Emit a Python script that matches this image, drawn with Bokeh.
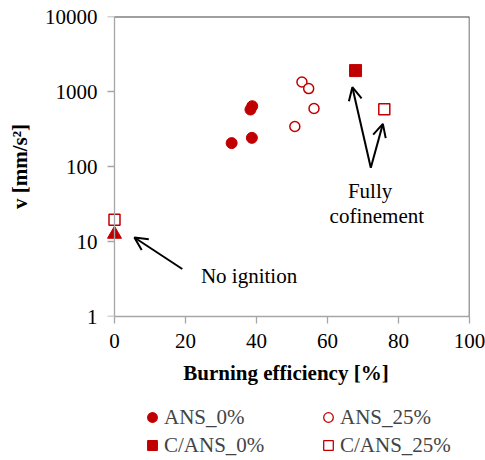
from bokeh.plotting import figure
from bokeh.layouts import column
from bokeh.models import (Range1d, FixedTicker, NumeralTickFormatter, Span, Arrow, OpenHead,
                          Label, Legend, LegendItem)
from bokeh.embed import file_html
from bokeh.resources import INLINE

# ---- data ----
ans0_x = [33.0, 38.3, 38.8, 38.7]
ans0_y = [205, 575, 637, 241]
ans25_x = [52.8, 54.7, 56.2, 50.8]
ans25_y = [1340, 1094, 593, 342]
cans0_x = [67.9]
cans0_y = [1900]
cans25_x = [76.0, 0.0]
cans25_y = [580, 19.5]
noign_x = [0.0]
noign_y = [12.5]

x_ticks = [0, 20, 40, 60, 80, 100]
y_ticks = [1, 10, 100, 1000, 10000]
series_labels = ["ANS_0%", "C/ANS_0%", "ANS_25%", "C/ANS_25%"]

RED = "#C00000"
AXIS_GRAY = "#A6A6A6"
FONT = "Liberation Serif"

X_PAD = 3.38          # small room left of x=0 so markers on the axis are not cut
TICK_LEN = 1.97       # length of y ticks, in x units (~7px)

p = figure(width=485, height=392, y_axis_type="log",
           x_range=Range1d(-X_PAD, 100), y_range=Range1d(1, 10000),
           output_backend="svg", toolbar_location=None,
           min_border_left=102, min_border_right=16, min_border_top=16, min_border_bottom=76)
p.grid.visible = False
p.outline_line_color = None
p.background_fill_color = "white"
p.border_fill_color = "white"

for ax in (p.xaxis[0], p.yaxis[0]):
    ax.minor_tick_line_color = None
    ax.major_label_text_font = FONT
    ax.major_label_text_font_size = "21px"
    ax.major_label_text_color = "black"
    ax.axis_label_text_font = FONT
    ax.axis_label_text_font_size = "21px"
    ax.axis_label_text_font_style = "bold"
    ax.axis_label_text_color = "black"

xa = p.xaxis[0]
xa.bounds = (0, 100)
xa.axis_line_color = AXIS_GRAY
xa.axis_line_width = 1.3
xa.major_tick_line_color = AXIS_GRAY
xa.major_tick_line_width = 1.3
xa.major_tick_in = 0
xa.major_tick_out = 7
xa.ticker = FixedTicker(ticks=x_ticks)
xa.formatter = NumeralTickFormatter(format="0")
xa.axis_label = "Burning efficiency [%]"
xa.major_label_standoff = 10
xa.axis_label_standoff = 10

ya = p.yaxis[0]
ya.axis_line_color = None
ya.major_tick_line_color = None
ya.major_tick_in = 0
ya.major_tick_out = 0
ya.ticker = FixedTicker(ticks=y_ticks)
ya.formatter = NumeralTickFormatter(format="0")
ya.axis_label = "v [mm/s²]"
ya.major_label_standoff = 5
ya.axis_label_standoff = 10

# y axis line at x = 0 and its outward ticks
p.add_layout(Span(location=0, dimension="height", line_color=AXIS_GRAY, line_width=1.3))
p.segment(x0=[-TICK_LEN] * len(y_ticks), y0=y_ticks, x1=[0] * len(y_ticks), y1=y_ticks,
          line_color=AXIS_GRAY, line_width=1.3)
# top and right border of the plot area
p.segment(x0=[x_ticks[0]], y0=[y_ticks[-1]], x1=[x_ticks[-1]], y1=[y_ticks[-1]],
          line_color="#404040", line_width=2.2)
p.add_layout(Span(location=x_ticks[-1], dimension="height", line_color="#404040", line_width=1.5))

STYLES = [
    dict(marker="circle", size=11, fill_color=RED, line_color=RED),
    dict(marker="square", size=12, fill_color=RED, line_color=RED),
    dict(marker="circle", size=10, fill_color="white", line_color=RED, line_width=1.5),
    dict(marker="square", size=11, fill_color="white", line_color=RED, line_width=1.5),
]
SERIES = [(ans0_x, ans0_y), (cans0_x, cans0_y), (ans25_x, ans25_y), (cans25_x, cans25_y)]
for (sx, sy), st in zip(SERIES, STYLES):
    p.scatter(sx, sy, **st)
p.scatter(noign_x, noign_y, marker="triangle", size=14, fill_color=RED, line_color=RED)

# annotations
def arrow(x0, y0, x1, y1):
    p.add_layout(Arrow(x_start=x0, y_start=y0, x_end=x1, y_end=y1,
                       line_color="black", line_width=2,
                       end=OpenHead(size=13, line_color="black", line_width=2)))

arrow(72.2, 96, 67.0, 1140)
arrow(72.2, 96, 75.6, 370)
arrow(19.1, 4.3, 5.6, 11.3)

for txt, x, y in [("Fully", 72.0, 47), ("cofinement", 73.9, 22), ("No ignition", 37.9, 3.5)]:
    p.add_layout(Label(x=x, y=y, text=txt, text_align="center", text_baseline="middle",
                       text_font=FONT, text_font_size="21px", text_color="black"))

# ---- legend strip below the chart (its renderers reuse the series, out of view) ----
pl = figure(width=485, height=66, x_range=Range1d(-1e6, -1e6 + 1), y_range=Range1d(-1e6, -1e6 + 1),
            x_axis_location=None, y_axis_location=None,
            output_backend="svg", toolbar_location=None,
            min_border_left=0, min_border_right=0, min_border_top=0, min_border_bottom=0)
pl.grid.visible = False
pl.outline_line_color = None
items = []
for lab, (sx, sy), st in zip(series_labels, SERIES, STYLES):
    leg_st = dict(st)
    leg_st["line_width"] = 1.3
    r = pl.scatter(sx, sy, **leg_st)
    items.append(LegendItem(label=lab, renderers=[r]))
legend = Legend(items=items, ncols=2, location=(38, 0), border_line_color=None,
                background_fill_alpha=0, label_text_font=FONT, label_text_font_size="21px",
                label_standoff=0, glyph_width=24, glyph_height=26, spacing=2,
                label_width=150, padding=0, margin=0)
pl.add_layout(legend, "center")

layout = column(p, pl, spacing=0)
open("out.html", "w").write(file_html(layout, INLINE))
